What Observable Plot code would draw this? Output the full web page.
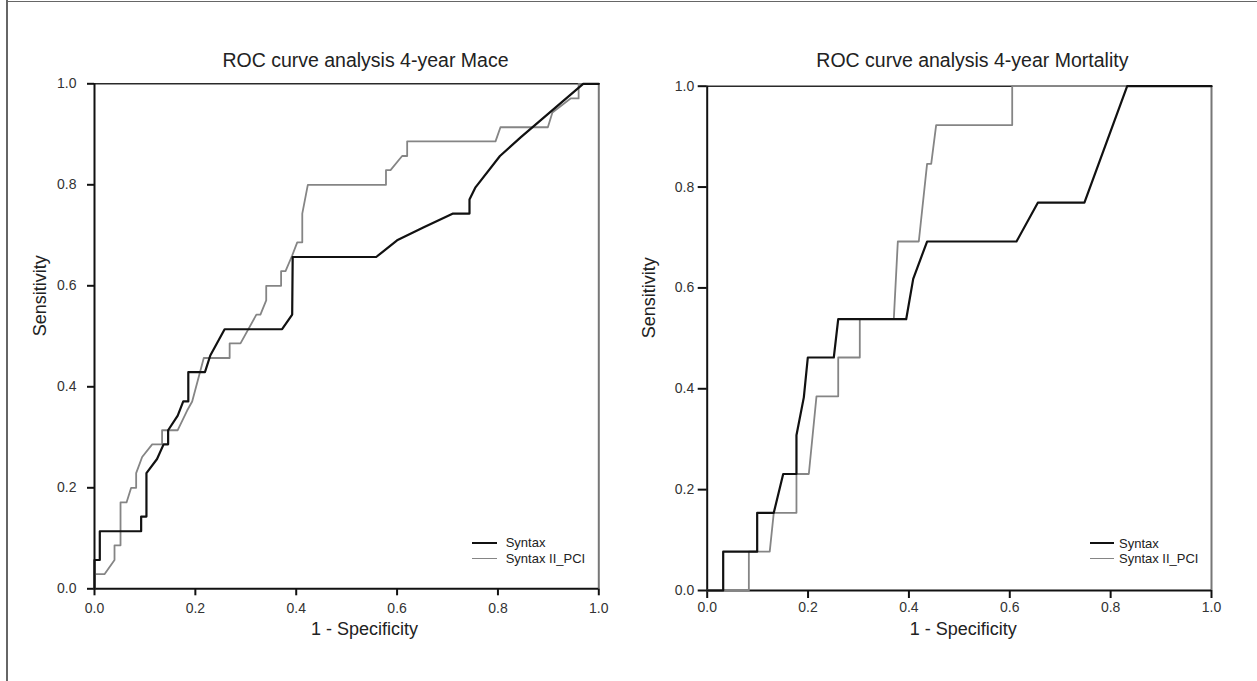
<!DOCTYPE html>
<html>
<head>
<meta charset="utf-8">
<script src="https://cdn.jsdelivr.net/npm/d3@7"></script>
<script src="https://cdn.jsdelivr.net/npm/@observablehq/plot@0.6"></script>
<style>
  html, body { margin: 0; padding: 0; background: #fff; }
  #wrap { position: relative; width: 1257px; height: 681px; overflow: hidden; font-family: "Liberation Sans", Arial, sans-serif; }
  .panel { position: absolute; top: 0; }
  .edge { position: absolute; background: #666; }
  .legend { position: absolute; font-size: 13px; color: #222; }
  .legend .row { display: flex; align-items: center; height: 15.5px; white-space: nowrap; }
  .legend .sw { display: inline-block; height: 0; }
</style>
</head>
<body>
<div id="wrap"></div>
<script>
// ---------- data ----------
const tickValues = [0, 0.2, 0.4, 0.6, 0.8, 1.0];
const seriesNames = ["Syntax", "Syntax II_PCI"];
const seriesColors = ["#111111", "#858585"];

const titles = ["ROC curve analysis 4-year Mace", "ROC curve analysis 4-year Mortality"];
const xLabel = "1 - Specificity";
const yLabel = "Sensitivity";

// 4-year MACE — Syntax
const maceSyntaxFpr = [0, 0, 0.0105, 0.0105, 0.0925, 0.0925, 0.103, 0.103, 0.124, 0.137, 0.146, 0.146, 0.165, 0.176, 0.186, 0.186, 0.219, 0.2296, 0.258, 0.372, 0.392, 0.393, 0.5586, 0.600, 0.653, 0.711, 0.7436, 0.7436, 0.7555, 0.804, 0.845, 0.969, 1.0];
const maceSyntaxTpr = [0, 0.057, 0.057, 0.114, 0.114, 0.143, 0.143, 0.229, 0.257, 0.286, 0.286, 0.314, 0.343, 0.371, 0.371, 0.429, 0.429, 0.462, 0.514, 0.514, 0.543, 0.657, 0.657, 0.690, 0.716, 0.743, 0.743, 0.771, 0.795, 0.857, 0.894, 1.0, 1.0];

// 4-year MACE — Syntax II_PCI
const maceIIFpr = [0, 0, 0.0198, 0.0397, 0.0397, 0.0516, 0.0516, 0.0635, 0.0727, 0.0826, 0.0826, 0.0945, 0.1144, 0.134, 0.134, 0.165, 0.1837, 0.1937, 0.2167, 0.268, 0.268, 0.2895, 0.321, 0.329, 0.3405, 0.3405, 0.370, 0.370, 0.3788, 0.392, 0.402, 0.412, 0.412, 0.423, 0.578, 0.578, 0.587, 0.610, 0.620, 0.620, 0.7952, 0.805, 0.899, 0.908, 0.944, 0.960, 0.960, 1.0];
const maceIITpr = [0, 0.029, 0.029, 0.057, 0.086, 0.086, 0.171, 0.171, 0.200, 0.200, 0.229, 0.261, 0.286, 0.286, 0.314, 0.314, 0.353, 0.371, 0.457, 0.457, 0.486, 0.486, 0.543, 0.543, 0.571, 0.600, 0.600, 0.629, 0.629, 0.660, 0.686, 0.686, 0.743, 0.800, 0.800, 0.829, 0.829, 0.857, 0.857, 0.886, 0.886, 0.914, 0.914, 0.943, 0.971, 0.971, 1.0, 1.0];

// 4-year Mortality — Syntax
const mortSyntaxFpr = [0, 0.0317, 0.0317, 0.0991, 0.0991, 0.132, 0.1507, 0.177, 0.177, 0.1916, 0.1995, 0.251, 0.2598, 0.3946, 0.4085, 0.436, 0.6133, 0.6556, 0.748, 0.8328, 1.0];
const mortSyntaxTpr = [0, 0, 0.077, 0.077, 0.154, 0.154, 0.231, 0.231, 0.308, 0.383, 0.462, 0.462, 0.538, 0.538, 0.618, 0.692, 0.692, 0.769, 0.769, 1.0, 1.0];

// 4-year Mortality — Syntax II_PCI
const mortIIFpr = [0, 0.0826, 0.0826, 0.124, 0.132, 0.177, 0.177, 0.2015, 0.2167, 0.2598, 0.2598, 0.3026, 0.3026, 0.370, 0.378, 0.4196, 0.436, 0.4442, 0.454, 0.6048, 0.6048, 1.0];
const mortIITpr = [0, 0, 0.077, 0.077, 0.154, 0.154, 0.231, 0.231, 0.385, 0.385, 0.462, 0.462, 0.538, 0.538, 0.692, 0.692, 0.846, 0.846, 0.923, 0.923, 1.0, 1.0];

// ---------- drawing ----------
const toRows = (fpr, tpr) => fpr.map((f, i) => ({fpr: f, tpr: tpr[i]}));
const fmt = d3.format(".1f");
const FONT = "Liberation Sans, Arial, sans-serif";

function panel(cfg) {
  return Plot.plot({
    width: cfg.width,
    height: 681,
    marginLeft: cfg.ml,
    marginRight: cfg.mr,
    marginTop: cfg.mt,
    marginBottom: 681 - cfg.bottom,
    style: {fontFamily: FONT, fontSize: "14px", color: "#333", background: "transparent", overflow: "visible"},
    x: {domain: [0, 1], label: null},
    y: {domain: [0, 1], label: null},
    marks: [
      Plot.axisX({ticks: tickValues, tickFormat: fmt, tickSize: cfg.xTick, tickPadding: cfg.xPad, strokeWidth: 2, stroke: "#111", fontSize: 14, label: null}),
      Plot.axisY({ticks: tickValues, tickFormat: fmt, tickSize: cfg.yTick, tickPadding: cfg.yPad, strokeWidth: 2, stroke: "#111", fontSize: 14, label: null}),
      Plot.ruleY([1], {stroke: "#2a2a2a", strokeWidth: 1.6}),
      Plot.ruleX([1], {stroke: "#777", strokeWidth: 2}),
      Plot.ruleX([0], {stroke: "#111", strokeWidth: 2}),
      Plot.ruleY([0], {stroke: "#111", strokeWidth: 2}),
      Plot.line(cfg.gray, {x: "fpr", y: "tpr", stroke: seriesColors[1], strokeWidth: 1.8}),
      Plot.line(cfg.black, {x: "fpr", y: "tpr", stroke: seriesColors[0], strokeWidth: 2.2}),
      Plot.text([cfg.title], {frameAnchor: "top", dx: cfg.titleDx, dy: cfg.titleDy, fontSize: 19.5, fill: "#222", lineAnchor: "middle"}),
      Plot.text([xLabel], {frameAnchor: "bottom", dx: cfg.xlDx, dy: cfg.xlDy, fontSize: 18, fill: "#222", lineAnchor: "middle"}),
      Plot.text([yLabel], {frameAnchor: "left", rotate: -90, dx: cfg.ylDx, dy: 0, fontSize: 18, fill: "#222", lineAnchor: "middle"})
    ]
  });
}

const wrap = document.getElementById("wrap");

const left = panel({
  width: 620, ml: 94, mr: 620 - 598.3, mt: 83.3, bottom: 588.3,
  xTick: 7, xPad: 7, yTick: 7, yPad: 11,
  gray: toRows(maceIIFpr, maceIITpr), black: toRows(maceSyntaxFpr, maceSyntaxTpr),
  title: titles[0], titleDx: 18.8, titleDy: -22.6, xlDx: 17.8, xlDy: 40.4, ylDx: -54
});
left.classList.add("panel");
left.style.left = "0px";
wrap.appendChild(left);

const right = panel({
  width: 637, ml: 86.7, mr: 1257 - 1211, mt: 85.7, bottom: 590,
  xTick: 8, xPad: 4, yTick: 9, yPad: 4,
  gray: toRows(mortIIFpr, mortIITpr), black: toRows(mortSyntaxFpr, mortSyntaxTpr),
  title: titles[1], titleDx: 13, titleDy: -25, xlDx: 4, xlDy: 38.7, ylDx: -58
});
right.classList.add("panel");
right.style.left = "620px";
wrap.appendChild(right);

// figure border (left and top edges)
for (const [l, t, w, h] of [[6, 0, 1.5, 681], [6, 1, 1251, 1.2]]) {
  const e = document.createElement("div");
  e.className = "edge";
  Object.assign(e.style, {left: l + "px", top: t + "px", width: w + "px", height: h + "px"});
  wrap.appendChild(e);
}

// legends
function legend(x, y, swW, gap) {
  const lg = document.createElement("div");
  lg.className = "legend";
  lg.style.left = x + "px";
  lg.style.top = y + "px";
  seriesNames.forEach((name, i) => {
    const row = document.createElement("div");
    row.className = "row";
    const sw = document.createElement("span");
    sw.className = "sw";
    sw.style.width = swW + "px";
    sw.style.borderTop = (i === 0 ? 2.4 : 1.8) + "px solid " + seriesColors[i];
    sw.style.marginRight = gap + "px";
    const tx = document.createElement("span");
    tx.textContent = name;
    row.appendChild(sw);
    row.appendChild(tx);
    lg.appendChild(row);
  });
  wrap.appendChild(lg);
}
legend(471.7, 535, 25, 9);
legend(1090, 535.5, 24.3, 4.7);
</script>
</body>
</html>
